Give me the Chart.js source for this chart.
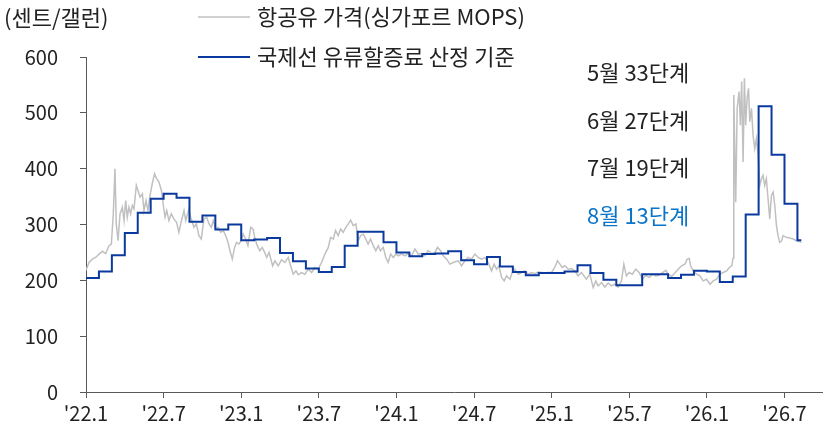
<!DOCTYPE html>
<html>
<head>
<meta charset="utf-8">
<script src="https://cdn.jsdelivr.net/npm/chart.js@4.4.1/dist/chart.umd.min.js"></script>
<style>
html,body{margin:0;padding:0;background:#fff;}
#wrap{width:824px;height:434px;}
</style>
</head>
<body>
<div id="wrap"><canvas id="c" width="824" height="434"></canvas></div>
<script>
// x values are months since Jan 2022 (0 = '22.1)
const tickMonths = [0, 6, 12, 18, 24, 30, 36, 42, 48, 54];
const tickLabels = ["'22.1", "'22.7", "'23.1", "'23.7", "'24.1", "'24.7", "'25.1", "'25.7", "'26.1", "'26.7"];

const seriesNames = ["항공유 가격(싱가포르 MOPS)", "국제선 유류할증료 산정 기준"];
const unitLabel = "(센트/갤런)";
const noteLabels = ["5월 33단계", "6월 27단계", "7월 19단계", "8월 13단계"];

// 항공유 가격 (jet fuel price, cents/gallon)
const jetMonths = [0,0.23,0.49,0.74,1.01,1.27,1.52,1.78,1.96,2.11,2.24,2.34,2.48,2.63,2.81,2.94,3.07,3.19,3.32,3.45,3.58,3.71,3.89,4.02,4.18,4.36,4.48,4.64,4.79,4.95,5.12,5.3,5.46,5.64,5.83,5.98,6.11,6.24,6.41,6.59,6.8,7.0,7.18,7.32,7.58,7.71,7.96,8.09,8.35,8.53,8.73,8.91,9.12,9.33,9.51,9.69,9.84,10.02,10.2,10.41,10.62,10.8,10.98,11.13,11.31,11.49,11.64,11.82,12.0,12.15,12.34,12.52,12.73,12.91,13.04,13.24,13.44,13.62,13.81,13.97,14.15,14.43,14.61,14.86,15.12,15.37,15.64,15.82,16.02,16.23,16.41,16.66,16.92,17.19,17.44,17.7,17.95,18.21,18.47,18.73,18.91,19.12,19.29,19.5,19.68,19.88,20.09,20.27,20.46,20.66,20.87,21.05,21.23,21.43,21.63,21.81,22.0,22.21,22.41,22.59,22.77,22.98,23.18,23.36,23.55,23.76,23.96,24.14,24.39,24.65,24.91,25.17,25.43,25.69,25.94,26.2,26.45,26.71,26.98,27.18,27.41,27.62,27.88,28.13,28.39,28.78,29.03,29.29,29.55,29.8,30.07,30.32,30.58,30.84,31.09,31.35,31.55,31.74,31.92,32.13,32.33,32.51,32.77,32.95,33.15,33.42,33.68,33.93,34.19,34.44,34.7,34.96,35.22,35.48,35.73,35.99,36.24,36.45,36.64,36.81,37.02,37.28,37.53,37.79,38.04,38.31,38.69,38.95,39.21,39.41,39.59,39.85,40.11,40.37,40.62,40.88,41.13,41.4,41.58,41.78,41.99,42.24,42.5,42.76,43.03,43.28,43.54,43.8,44.05,44.31,44.57,44.83,45.01,45.27,45.52,45.78,46.04,46.3,46.48,46.64,46.74,46.94,47.2,47.46,47.71,47.98,48.24,48.49,48.75,49.01,49.26,49.53,49.74,49.92,50.03,50.08,50.23,50.34,50.49,50.59,50.69,50.8,50.9,51.0,51.11,51.22,51.32,51.45,51.57,51.7,51.83,51.96,52.09,52.22,52.34,52.47,52.6,52.73,52.86,52.99,53.12,53.25,53.38,53.5,53.63,53.76,53.89,54.14,54.41,54.67,54.92,55.18,55.31];
const jetPrices = [218,232,238,241,247,252,248,262,265,319,400,301,271,319,331,307,343,313,331,319,334,328,370,361,349,355,325,343,325,352,373,391,382,376,361,334,313,325,307,319,310,304,286,301,325,307,328,313,295,301,280,274,310,313,301,295,307,292,295,286,289,280,268,253,238,259,268,265,271,283,274,262,295,292,277,262,253,259,250,241,250,226,235,226,237,232,241,226,211,217,210,214,211,220,214,223,220,232,247,259,277,274,289,280,292,286,295,301,308,298,301,271,280,283,274,265,274,262,253,262,253,259,241,232,247,241,247,244,247,244,248,244,256,247,248,244,253,248,250,259,253,244,238,229,232,235,226,235,241,238,247,241,238,241,232,217,229,220,226,205,199,208,202,214,220,211,214,217,211,214,212,215,214,213,214,214,223,235,229,223,226,220,221,217,208,214,202,211,187,199,190,196,188,195,190,193,188,199,229,208,214,211,220,214,202,209,205,211,208,209,214,218,211,207,213,220,226,229,238,239,226,217,211,208,199,202,193,199,202,211,214,217,223,226,240,532,340,508,538,478,556,412,562,478,526,544,484,508,460,436,454,424,370,382,388,370,382,346,310,352,358,334,298,280,268,270,280,277,276,274,271,269,268];

// 국제선 유류할증료 산정 기준 (monthly level, from Jan 2022)
const surchargeLevels = [204,216,245,285,321,346,355,348,305,316,291,300,272,273,276,249,234,221,215,224,262,287,287,268,250,243,247,248,252,236,229,242,225,215,209,213,213,216,227,213,201,191,191,211,211,204,210,217,216,197,207,318,512,425,337,272];
const surchargeLastDate = 55.3;

const FONT = "'Noto Sans CJK KR', 'Noto Sans', sans-serif";
const TXT = '#222222';
const GRAY = '#c0c0c0';
const BLUE = '#0b3a9e';
const NOTE_BLUE = '#0a74c8';

const jetData = jetMonths.map((m, i) => ({x: m, y: jetPrices[i]}));
const surchargeData = surchargeLevels.map((v, i) => ({x: i, y: v}));
surchargeData.push({x: surchargeLastDate, y: surchargeLevels[surchargeLevels.length - 1]});

const overlayText = {
  id: 'overlayText',
  afterDraw(chart) {
    const ctx = chart.ctx;
    ctx.save();
    ctx.font = '22px ' + FONT;
    ctx.textBaseline = 'middle';
    ctx.textAlign = 'left';
    ctx.fillStyle = TXT;
    ctx.fillText(unitLabel, 4, 18);
    // legend
    const ds = chart.data.datasets;
    const rows = [17, 57];
    ds.forEach((d, i) => {
      ctx.strokeStyle = d.borderColor;
      ctx.lineWidth = i === 0 ? 1.5 : 2;
      ctx.beginPath();
      ctx.moveTo(198, rows[i]);
      ctx.lineTo(250, rows[i]);
      ctx.stroke();
      ctx.fillStyle = TXT;
      ctx.fillText(d.label, 257, rows[i]);
    });
    // notes
    const ny = [73, 121, 168, 216];
    noteLabels.forEach((t, i) => {
      ctx.fillStyle = i === 3 ? NOTE_BLUE : TXT;
      ctx.fillText(t, 587, ny[i]);
    });
    ctx.restore();
  }
};

new Chart(document.getElementById('c'), {
  type: 'line',
  data: {
    datasets: [
      {label: seriesNames[0], data: jetData, borderColor: GRAY, borderWidth: 1.5, pointRadius: 0, tension: 0, order: 2},
      {label: seriesNames[1], data: surchargeData, borderColor: BLUE, borderWidth: 2, pointRadius: 0, stepped: 'before', order: 1}
    ]
  },
  options: {
    responsive: false,
    animation: false,
    events: [],
    layout: {padding: {top: 57, right: 2, bottom: 0, left: 0}},
    plugins: {legend: {display: false}, tooltip: {enabled: false}},
    scales: {
      x: {
        type: 'linear',
        min: 0,
        max: 56.9,
        afterBuildTicks: axis => { axis.ticks = tickMonths.map(v => ({value: v})); },
        afterFit: s => { s.height = 42; },
        border: {display: true, color: '#595959', width: 1},
        grid: {display: true, drawOnChartArea: false, drawTicks: true, tickLength: 6, color: '#595959'},
        ticks: {
          autoSkip: false, maxRotation: 0, padding: 3, color: TXT,
          font: {family: FONT, size: 20},
          callback: v => tickLabels[tickMonths.indexOf(v)]
        }
      },
      y: {
        min: 0,
        max: 600,
        afterFit: s => { s.width = 86; },
        border: {display: true, color: '#595959', width: 1},
        grid: {display: true, drawOnChartArea: false, drawTicks: true, tickLength: 6, color: '#595959'},
        ticks: {stepSize: 100, padding: 22, color: TXT, font: {family: FONT, size: 20}}
      }
    }
  },
  plugins: [overlayText]
});
</script>
</body>
</html>
